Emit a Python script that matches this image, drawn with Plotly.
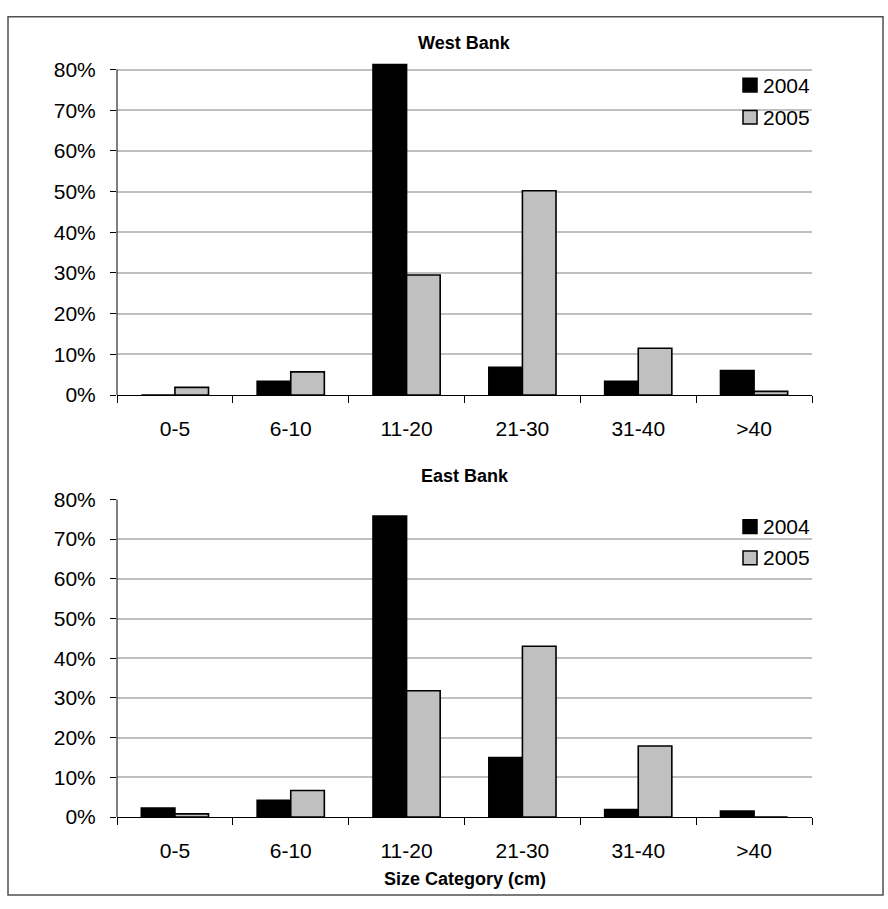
import plotly.graph_objects as go

categories = ["0-5", "6-10", "11-20", "21-30", "31-40", ">40"]
west_2004 = [0.0, 0.034, 0.812, 0.068, 0.034, 0.060]
west_2005 = [0.019, 0.057, 0.295, 0.502, 0.115, 0.009]
east_2004 = [0.023, 0.042, 0.758, 0.150, 0.019, 0.015]
east_2005 = [0.008, 0.067, 0.318, 0.430, 0.179, 0.0]
years = ["2004", "2005"]
y_ticks = [0, 0.1, 0.2, 0.3, 0.4, 0.5, 0.6, 0.7, 0.8]

W, H = 888, 909
FONT = "Liberation Sans, Arial, sans-serif"
BLACK = "#000000"
GRAY = "#C0C0C0"

def py(p):
    return 1 - p / H

def px(p):
    return p / W

x0, x1 = 117, 812
# top plot: 0% at 393, 80% at 59 ; extend to 0.82 so the tall bar shows
top_ppu = (393 - 59) / 0.8
top_max = 0.82
top_dom = [py(393), py(393 - top_ppu * top_max)]
bot_dom = [py(826), py(500)]

fig = go.Figure()
colors = [BLACK, GRAY]
for i, (vals, yr) in enumerate(zip([west_2004, west_2005], years)):
    fig.add_trace(go.Bar(x=categories, y=vals, name=yr, xaxis="x", yaxis="y",
                         marker=dict(color=colors[i], line=dict(color=BLACK, width=1.6)),
                         showlegend=False))
for i, (vals, yr) in enumerate(zip([east_2004, east_2005], years)):
    fig.add_trace(go.Bar(x=categories, y=vals, name=yr, xaxis="x2", yaxis="y2",
                         marker=dict(color=colors[i], line=dict(color=BLACK, width=1.6)),
                         showlegend=False))

xcommon = dict(type="category", tickson="boundaries", ticks="outside", ticklen=7,
               tickcolor=BLACK, tickwidth=1, showline=True, linecolor=BLACK, linewidth=1,
               showgrid=False, zeroline=False, domain=[px(x0), px(x1)],
               tickfont=dict(family=FONT, size=21, color=BLACK), ticklabelstandoff=15,
               fixedrange=True)
ycommon = dict(tickvals=y_ticks, tickformat=".0%", ticks="outside", ticklen=6,
               tickcolor=BLACK, tickwidth=1, showline=False, showgrid=True,
               gridcolor=GRAY, gridwidth=2, zeroline=False,
               tickfont=dict(family=FONT, size=21, color=BLACK), ticklabelstandoff=10,
               fixedrange=True)

fig.update_layout(
    width=W, height=H,
    margin=dict(l=0, r=0, t=0, b=0),
    paper_bgcolor="white", plot_bgcolor="white",
    barmode="group", bargap=0.42, bargroupgap=0,
    xaxis=dict(**xcommon, anchor="y"),
    yaxis=dict(**ycommon, domain=top_dom, range=[0, top_max], anchor="x"),
    xaxis2=dict(**xcommon, anchor="y2"),
    yaxis2=dict(**ycommon, domain=bot_dom, range=[0, 0.8], anchor="x2"),
    font=dict(family=FONT, color=BLACK),
)

shapes = []
# y axis lines (to 80% only)
shapes.append(dict(type="line", xref="x domain", yref="y", x0=0, x1=0, y0=0, y1=0.8,
                   line=dict(color=BLACK, width=1)))
shapes.append(dict(type="line", xref="x2 domain", yref="y2", x0=0, x1=0, y0=0, y1=0.8,
                   line=dict(color=BLACK, width=1)))
# outer frame
shapes.append(dict(type="rect", xref="paper", yref="paper", x0=px(8), x1=px(883),
                   y0=py(906), y1=py(5), line=dict(color="#505050", width=1.5),
                   fillcolor="rgba(0,0,0,0)", layer="below"))

annotations = []
annotations.append(dict(text="<b>West Bank</b>", x=px((x0 + x1) / 2), y=py(32), xref="paper",
                        yref="paper", showarrow=False, xanchor="center", yanchor="middle",
                        font=dict(family=FONT, size=18, color=BLACK)))
annotations.append(dict(text="<b>East Bank</b>", x=px((x0 + x1) / 2), y=py(476), xref="paper",
                        yref="paper", showarrow=False, xanchor="center", yanchor="middle",
                        font=dict(family=FONT, size=18, color=BLACK)))
annotations.append(dict(text="<b>Size Category (cm)</b>", x=px((x0 + x1) / 2), y=py(889),
                        xref="paper", yref="paper", showarrow=False, xanchor="center",
                        yanchor="middle", font=dict(family=FONT, size=18, color=BLACK)))

# legends
for centers in ([75, 108], [528, 560]):
    for yr, c, col in zip(years, centers, colors):
        shapes.append(dict(type="rect", xref="paper", yref="paper", x0=px(743), x1=px(757),
                           y0=py(c + 7), y1=py(c - 7), fillcolor=col,
                           line=dict(color=BLACK, width=1.5)))
        annotations.append(dict(text=yr, x=px(761), y=py(c), xref="paper", yref="paper",
                                showarrow=False, xanchor="left", yanchor="middle",
                                font=dict(family=FONT, size=21, color=BLACK)))

fig.update_layout(shapes=shapes, annotations=annotations)
fig.write_html("out.html",
               config={"displayModeBar": False},
               post_script="document.body.style.margin='0px';document.body.style.overflow='hidden';")
